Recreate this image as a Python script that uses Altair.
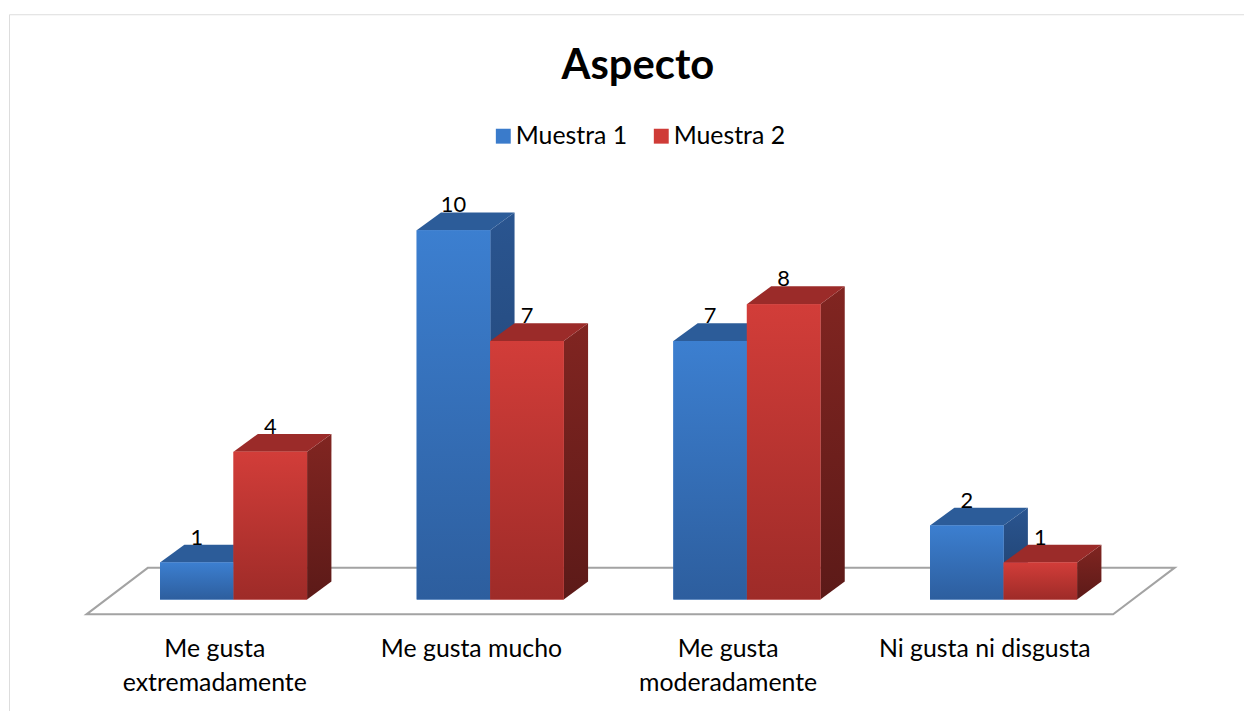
import altair as alt
import pandas as pd

# ---------------- data ----------------
categories = ["Me gusta extremadamente", "Me gusta mucho",
              "Me gusta moderadamente", "Ni gusta ni disgusta"]
category_labels = ["Me gusta\nextremadamente", "Me gusta mucho",
                   "Me gusta\nmoderadamente", "Ni gusta ni disgusta"]
series_names = ["Muestra 1", "Muestra 2"]
muestra_1 = [1, 10, 7, 2]
muestra_2 = [4, 7, 8, 1]
title_text = "Aspecto"

# ---------------- layout / style ----------------
W, H = 1266, 707
PX_PER_CAT = 258.33
PX_PER_VAL = 37.15
X0_PX = 226
Y0_PX = 589
BAR_W = 74 / PX_PER_CAT
DEPTH_X = 24.5 / PX_PER_CAT
DEPTH_Y = 18 / PX_PER_VAL
FLOOR_FRONT_Y = -15 / PX_PER_VAL
FLOOR_BACK_Y = 32 / PX_PER_VAL
FLOOR_FRONT_DX = -0.073
FLOOR_BACK_DX = 0.167
FONT = "Lato"

x_dom = [-X0_PX / PX_PER_CAT, (W - X0_PX) / PX_PER_CAT]
y_dom = [-(H - Y0_PX) / PX_PER_VAL, Y0_PX / PX_PER_VAL]
XS = alt.Scale(domain=x_dom, nice=False, zero=False)
YS = alt.Scale(domain=y_dom, nice=False, zero=False)

legend_colors = ["#3a7bcb", "#cf3b37"]


def grad(c0, c1):
    return {"gradient": "linear", "x1": 0, "y1": 0, "x2": 0, "y2": 1,
            "stops": [{"offset": 0, "color": c0}, {"offset": 1, "color": c1}]}


front_fill = [grad("#3c7fd0", "#2d5e9e"), grad("#d23d39", "#9e2b28")]
side_fill = [grad("#2a5590", "#1f3f6b"), grad("#812521", "#5c1a18")]
top_fill = ["#2c5c99", "#9b2b29"]

# ---------------- tables ----------------
front_rows, side_rows, top_rows, value_rows = [], [], [], []
for s_idx, (name, vals) in enumerate(zip(series_names, [muestra_1, muestra_2])):
    for i, v in enumerate(vals):
        x0 = i - BAR_W + s_idx * BAR_W
        x1 = x0 + BAR_W
        bid = f"{s_idx}-{i}"
        front_rows.append(dict(series=name, bar=bid, x0=x0, x1=x1, lo=0, hi=v))
        side_rows.append(dict(series=name, bar=bid, x=x1, lo=0, hi=v))
        side_rows.append(dict(series=name, bar=bid, x=x1 + DEPTH_X,
                              lo=DEPTH_Y, hi=v + DEPTH_Y))
        top_rows.append(dict(series=name, bar=bid, y=v, xl=x0, xr=x1))
        top_rows.append(dict(series=name, bar=bid, y=v + DEPTH_Y,
                             xl=x0 + DEPTH_X, xr=x1 + DEPTH_X))
        value_rows.append(dict(series=name, x=(x0 + x1) / 2, y=v + DEPTH_Y,
                               text=str(v)))

front_df = pd.DataFrame(front_rows)
side_df = pd.DataFrame(side_rows)
top_df = pd.DataFrame(top_rows)
value_df = pd.DataFrame(value_rows)
n = len(categories)
floor_df = pd.DataFrame([
    dict(y=FLOOR_FRONT_Y, xl=-0.5 + FLOOR_FRONT_DX, xr=n - 0.5 + FLOOR_FRONT_DX),
    dict(y=FLOOR_BACK_Y, xl=-0.5 + FLOOR_BACK_DX, xr=n - 0.5 + FLOOR_BACK_DX),
])
cat_df = pd.DataFrame(dict(x=[i + FLOOR_FRONT_DX for i in range(n)],
                           y=[FLOOR_FRONT_Y] * n, label=category_labels))

# ---------------- layers ----------------
floor = alt.Chart(floor_df).mark_area(
    orient="horizontal", fill="white", stroke="#a3a3a3", strokeWidth=2
).encode(
    y=alt.Y("y:Q", scale=YS, axis=None),
    x=alt.X("xl:Q", scale=XS, axis=None),
    x2="xr:Q",
)

layers = [floor]
for s_idx, name in enumerate(series_names):
    layers.append(
        alt.Chart(side_df).transform_filter(alt.datum.series == name)
        .mark_area(orient="vertical", fill=side_fill[s_idx])
        .encode(x=alt.X("x:Q", scale=XS, axis=None),
                y=alt.Y("lo:Q", scale=YS, axis=None), y2="hi:Q",
                detail="bar:N")
    )
for s_idx, name in enumerate(series_names):
    layers.append(
        alt.Chart(top_df).transform_filter(alt.datum.series == name)
        .mark_area(orient="horizontal", fill=top_fill[s_idx])
        .encode(y=alt.Y("y:Q", scale=YS, axis=None),
                x=alt.X("xl:Q", scale=XS, axis=None), x2="xr:Q",
                detail="bar:N")
    )

legend_layer = alt.Chart(front_df).mark_rect().encode(
    x=alt.X("x0:Q", scale=XS, axis=None), x2="x1:Q",
    y=alt.Y("lo:Q", scale=YS, axis=None), y2="hi:Q",
    color=alt.Color("series:N",
                    scale=alt.Scale(domain=series_names, range=legend_colors),
                    legend=alt.Legend(
                        title=None, orient="none", legendX=485, legendY=110,
                        direction="horizontal", symbolType="square",
                        symbolSize=225, symbolStrokeWidth=0, symbolOpacity=1,
                        labelFont=FONT, labelFontSize=25, labelColor="black",
                        labelOffset=0, columnPadding=21, padding=0,
                        labelLimit=300)),
)
layers.append(legend_layer)

for s_idx, name in enumerate(series_names):
    layers.append(
        alt.Chart(front_df).transform_filter(alt.datum.series == name)
        .mark_rect(fill=front_fill[s_idx])
        .encode(x=alt.X("x0:Q", scale=XS, axis=None), x2="x1:Q",
                y=alt.Y("lo:Q", scale=YS, axis=None), y2="hi:Q")
    )

values = alt.Chart(value_df).mark_text(
    font=FONT, fontSize=22, baseline="alphabetic", align="center", color="black"
).encode(x=alt.X("x:Q", scale=XS, axis=None),
         y=alt.Y("y:Q", scale=YS, axis=None), text="text:N")

cats = alt.Chart(cat_df).mark_text(
    font=FONT, fontSize=25, baseline="alphabetic", align="center",
    color="black", dy=43, lineBreak="\n", lineHeight=34
).encode(x=alt.X("x:Q", scale=XS, axis=None),
         y=alt.Y("y:Q", scale=YS, axis=None), text="label:N")

layers += [values, cats]

chart = alt.layer(*layers).resolve_scale(color="independent").properties(
    width=W, height=H,
    title=alt.Title(text=title_text, font=FONT, fontSize=42, fontWeight="bold",
                    anchor="middle", baseline="alphabetic", offset=-107,
                    color="black"),
    autosize=alt.AutoSizeParams(type="none"),
    padding={"left": 1, "top": 4, "right": 1244 - 1 - W, "bottom": 703 - 4 - H},
).configure_view(stroke="#8e8e8e", strokeWidth=2, fill="white"
).configure(background="white")

chart.save("out.html", embed_options={"renderer": "svg", "actions": False})
